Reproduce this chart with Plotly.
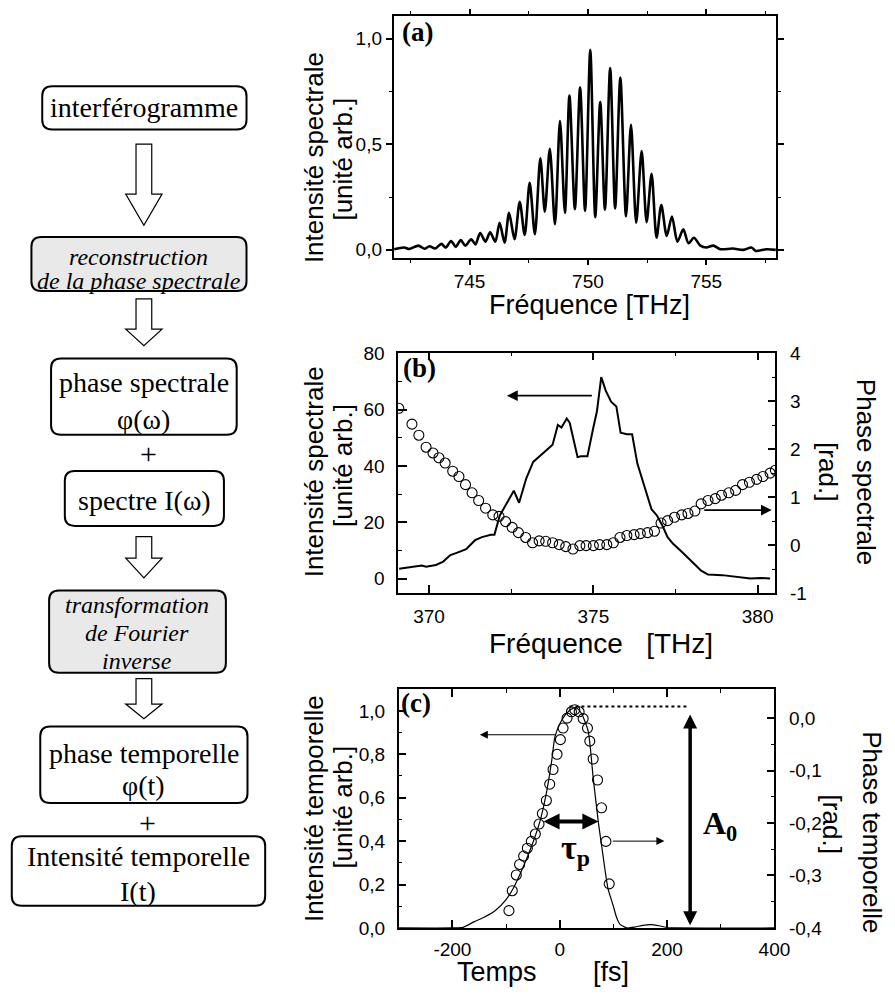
import plotly.graph_objects as go

W, H = 895, 997

# ---------------- panel (a): interferogram spectrum ----------------
a_freq = [741.82, 742.24, 742.45, 742.84, 743.10, 743.31, 743.55, 743.81, 744.00, 744.22,
          744.42, 744.63, 744.82, 745.07, 745.25, 745.45, 745.67, 745.87, 746.09, 746.27,
          746.48, 746.67, 746.90, 747.12, 747.33, 747.54, 747.76, 747.99, 748.18, 748.39,
          748.61, 748.82, 749.03, 749.22, 749.45, 749.67, 749.88, 750.10, 750.31, 750.52,
          750.72, 750.94, 751.15, 751.37, 751.61, 751.82, 752.04, 752.27, 752.48, 752.69,
          752.90, 753.10, 753.33, 753.55, 753.78, 754.03, 754.25, 754.48, 754.75, 755.00,
          755.30, 755.60, 756.12, 756.57, 756.91, 757.09, 757.54, 757.94]
a_int = [0.003, 0.011, 0.004, 0.020, 0.005, 0.017, 0.006, 0.028, 0.011, 0.042,
         0.014, 0.046, 0.020, 0.050, 0.026, 0.080, 0.039, 0.083, 0.039, 0.128,
         0.034, 0.175, 0.050, 0.227, 0.070, 0.317, 0.074, 0.433, 0.181, 0.479,
         0.121, 0.610, 0.175, 0.731, 0.193, 0.770, 0.185, 0.947, 0.155, 0.700,
         0.190, 0.861, 0.196, 0.816, 0.159, 0.592, 0.128, 0.468, 0.131, 0.360,
         0.057, 0.212, 0.066, 0.158, 0.039, 0.097, 0.031, 0.057, 0.020, 0.011,
         0.020, 0.003, 0.006, 0.000, 0.011, -0.005, 0.003, 0.000]
a_xticks = [745, 750, 755]
a_xticklabels = ["745", "750", "755"]
a_xminor = [742.5, 747.5, 752.5, 757.5]
a_yticks = [0.0, 0.5, 1.0]
a_yticklabels = ["0,0", "0,5", "1,0"]
a_yminor = [0.25, 0.75]

# ---------------- panel (b): spectrum + spectral phase ----------------
b_freq = [369.09, 369.46, 369.78, 369.91, 370.05, 370.21, 370.43, 370.65, 370.86, 371.13,
          371.40, 371.61, 371.88, 371.99, 372.15, 372.37, 372.58, 372.74, 372.96, 373.17,
          373.39, 373.55, 373.76, 373.92, 374.03, 374.19, 374.28, 374.52, 374.62, 374.82,
          374.89, 375.00, 375.11, 375.24, 375.38, 375.54, 375.70, 375.83, 376.02, 376.18,
          376.34, 376.56, 376.77, 376.94, 377.10, 377.26, 377.42, 377.69, 377.85, 378.12,
          378.28, 378.49, 378.92, 379.35, 379.78, 380.10, 380.38]
b_int = [3.5, 4.2, 4.6, 4.2, 4.6, 4.8, 6.0, 8.3, 9.2, 10.4,
         13.6, 14.7, 15.5, 15.5, 22.3, 26.9, 31.2, 26.9, 35.6, 41.4,
         43.7, 45.2, 47.5, 54.5, 53.6, 56.8, 55.3, 43.1, 43.4, 43.4,
         47.8, 53.6, 59.4, 71.5, 66.6, 62.8, 61.1, 51.8, 51.2, 51.2,
         40.8, 32.7, 24.6, 22.3, 18.8, 14.7, 12.4, 9.5, 7.8, 4.6,
         2.8, 1.4, 1.2, 0.5, 0.0, 0.2, 0.0]
b_pfreq = [369.08, 369.48, 369.69, 369.91, 370.12, 370.30, 370.49, 370.72, 370.91, 371.11,
           371.31, 371.51, 371.72, 371.94, 372.13, 372.33, 372.53, 372.72, 372.94, 373.15,
           373.35, 373.55, 373.76, 373.96, 374.16, 374.38, 374.59, 374.78, 375.00, 375.19,
           375.41, 375.61, 375.81, 376.02, 376.24, 376.43, 376.65, 376.86, 377.06, 377.26,
           377.47, 377.69, 377.88, 378.09, 378.28, 378.49, 378.71, 378.90, 379.12, 379.33,
           379.54, 379.75, 379.97, 380.16, 380.38, 380.54]
b_phase = [2.85, 2.52, 2.29, 2.04, 1.92, 1.82, 1.71, 1.54, 1.43, 1.26,
           1.09, 0.93, 0.77, 0.63, 0.60, 0.49, 0.37, 0.26, 0.16, 0.05,
           0.09, 0.08, 0.05, 0.01, -0.03, -0.08, -0.01, -0.01, -0.01, 0.01,
           0.01, 0.05, 0.16, 0.20, 0.22, 0.24, 0.26, 0.29, 0.46, 0.51,
           0.58, 0.63, 0.66, 0.71, 0.86, 0.93, 0.97, 1.04, 1.09, 1.14,
           1.26, 1.31, 1.37, 1.43, 1.50, 1.56]
b_xticks = [370, 375, 380]
b_xminor = [372.5, 377.5]
b_yticks = [0, 20, 40, 60, 80]
b_yminor = [10, 30, 50, 70]
b_y2ticks = [-1, 0, 1, 2, 3, 4]
b_y2minor = [-0.5, 0.5, 1.5, 2.5, 3.5]

# ---------------- panel (c): temporal intensity + temporal phase ----------------
c_time = [-300, -200, -180, -160, -140, -120, -100, -85, -70, -55,
          -37, -25, -15, -9, 0, 10, 20, 30, 40, 53,
          62, 72, 78, 84, 90, 99, 106, 112, 125, 140,
          155, 170, 185, 200, 215, 400]
c_int = [0, 0, 0.003, 0.028, 0.05, 0.08, 0.13, 0.19, 0.27, 0.36,
         0.49, 0.62, 0.77, 0.88, 0.94, 0.98, 1.005, 1.015, 0.99, 0.907,
         0.70, 0.485, 0.38, 0.274, 0.18, 0.108, 0.048, 0.018, 0.0, 0.004,
         0.012, 0.015, 0.01, 0.002, 0, 0]
c_ptime = [-94.7, -88.5, -81.0, -74.8, -67.3, -60.4, -53.0, -45.5, -38.6, -32.4,
           -24.9, -18.7, -12.5, -5.0, 1.2, 6.2, 13.7, 21.8, 28.0, 36.1,
           43.6, 51.7, 56.0, 62.3, 70.4, 77.9, 86.0, 92.2]
c_phase = [-0.367, -0.329, -0.299, -0.279, -0.263, -0.248, -0.235, -0.221, -0.202, -0.182,
           -0.157, -0.126, -0.098, -0.069, -0.041, -0.019, 0.000, 0.012, 0.016, 0.012,
           -0.001, -0.019, -0.044, -0.078, -0.118, -0.171, -0.235, -0.316]
c_xticks = [-200, 0, 200, 400]
c_xminor = [-100, 100, 300]
c_yticks = [0.0, 0.2, 0.4, 0.6, 0.8, 1.0]
c_yticklabels = ["0,0", "0,2", "0,4", "0,6", "0,8", "1,0"]
c_yminor = [0.1, 0.3, 0.5, 0.7, 0.9]
c_y2ticks = [-0.4, -0.3, -0.2, -0.1, 0.0]
c_y2ticklabels = ["-0,4", "-0,3", "-0,2", "-0,1", "0,0"]
c_y2minor = [-0.35, -0.25, -0.15, -0.05]

# ---------------- flowchart text ----------------
flow_texts = [
    ["interférogramme"],
    ["reconstruction", "de la phase spectrale"],
    ["phase spectrale", "φ(ω)"],
    ["spectre I(ω)"],
    ["transformation", "de Fourier", "inverse"],
    ["phase temporelle", "φ(t)"],
    ["Intensité temporelle", "I(t)"],
]

SERIF = "Liberation Serif, Times New Roman, serif"
SANS = "Liberation Sans, Arial, sans-serif"


def PX(x):
    return x / W


def PY(y):
    return 1 - y / H


fig = go.Figure()

fig.add_trace(go.Scatter(x=a_freq, y=a_int, xaxis="x", yaxis="y", mode="lines",
                         line=dict(color="black", width=2.6, shape="spline", smoothing=0.8)))
fig.add_trace(go.Scatter(x=b_freq, y=b_int, xaxis="x2", yaxis="y2", mode="lines",
                         line=dict(color="black", width=2)))
fig.add_trace(go.Scatter(x=b_pfreq, y=b_phase, xaxis="x2", yaxis="y3", mode="markers",
                         marker=dict(symbol="circle-open", size=10, color="black",
                                     line=dict(width=1.1))))
fig.add_trace(go.Scatter(x=c_time, y=c_int, xaxis="x3", yaxis="y4", mode="lines",
                         line=dict(color="black", width=1.2, shape="spline", smoothing=0.6)))
fig.add_trace(go.Scatter(x=c_ptime, y=c_phase, xaxis="x3", yaxis="y5", mode="markers",
                         marker=dict(symbol="circle-open", size=10, color="black",
                                     line=dict(width=1.1))))

tickfont = dict(family=SANS, size=19, color="black")


def ax(**kw):
    d = dict(showline=True, linecolor="black", linewidth=1.5, showgrid=False,
             zeroline=False, tickcolor="black", tickwidth=1.5, tickfont=tickfont,
             tickmode="array", fixedrange=True)
    d.update(kw)
    return d


def minor(vals, direction, length=4):
    return dict(tickmode="array", tickvals=vals, ticks=direction, ticklen=length,
                tickcolor="black", tickwidth=1.2, showgrid=False)


a_xdom = [PX(400.7), PX(790)]
a_ydom = [PY(253.3), PY(6)]
b_xdom = [PX(405.4), PX(789.5)]
b_ydom = [PY(595.7), PY(350)]
c_xdom = [PX(406), PX(788.5)]
c_ydom = [PY(937.7), PY(694)]

layout = dict(
    width=W, height=H, margin=dict(l=0, r=0, t=0, b=0),
    paper_bgcolor="white", plot_bgcolor="white", showlegend=False,
    xaxis=ax(domain=a_xdom, anchor="y", range=[741.79, 757.94], tickvals=a_xticks,
             ticktext=a_xticklabels, ticks="outside", ticklen=5, mirror="ticks",
             minor=minor(a_xminor, "outside", 3)),
    yaxis=ax(domain=a_ydom, anchor="x", range=[-0.0385, 1.108], tickvals=a_yticks,
             ticktext=a_yticklabels, ticks="outside", ticklen=6, mirror="ticks",
             minor=minor(a_yminor, "outside", 3)),
    xaxis2=ax(domain=b_xdom, anchor="y2", range=[369.06, 380.54], tickvals=b_xticks,
              ticktext=[str(v) for v in b_xticks], ticks="inside", ticklen=8,
              mirror="ticks", ticklabelstandoff=5, minor=minor(b_xminor, "inside")),
    yaxis2=ax(domain=b_ydom, anchor="x2", range=[-5.2, 80.2], tickvals=b_yticks,
              ticktext=[str(v) for v in b_yticks], ticks="inside", ticklen=9,
              mirror=True, ticklabelstandoff=8, minor=minor(b_yminor, "inside")),
    yaxis3=ax(overlaying="y2", side="right", anchor="x2", range=[-1.0, 4.01],
              tickvals=b_y2ticks, ticktext=[str(v) for v in b_y2ticks], ticks="inside",
              ticklen=8, ticklabelstandoff=9, minor=minor(b_y2minor, "inside")),
    xaxis3=ax(domain=c_xdom, anchor="y4", range=[-300, 400], tickvals=c_xticks,
              ticktext=[str(v) for v in c_xticks], ticks="inside", ticklen=8,
              mirror="ticks", ticklabelstandoff=4, minor=minor(c_xminor, "inside")),
    yaxis4=ax(domain=c_ydom, anchor="x3", range=[0, 1.099], tickvals=c_yticks,
              ticktext=c_yticklabels, ticks="inside", ticklen=8, mirror=True,
              ticklabelstandoff=8, minor=minor(c_yminor, "inside")),
    yaxis5=ax(overlaying="y4", side="right", anchor="x3", range=[-0.4, 0.0547],
              tickvals=c_y2ticks, ticktext=c_y2ticklabels, ticks="inside", ticklen=8,
              ticklabelstandoff=9, minor=minor(c_y2minor, "inside")),
)

annotations = []
shapes = []


def label(text, x, y, size, family=SANS, angle=0, **kw):
    annotations.append(dict(text=text, x=PX(x), y=PY(y), xref="paper", yref="paper",
                            showarrow=False, textangle=angle, xanchor="center",
                            yanchor="middle",
                            font=dict(family=family, size=size, color="black"), **kw))


# axis titles
label("Intensité spectrale", 320, 151, 26, angle=-90)
label("[unité arb.]", 349, 152, 26, angle=-90)
label("Fréquence [THz]", 600, 301, 27)
label("Intensité spectrale", 320, 472, 26, angle=-90)
label("[unité arb.]", 349, 465, 26, angle=-90)
label("Fréquence\u00a0\u00a0\u00a0[THz]", 612, 647, 28)
label("Phase spectrale", 882, 472, 26, angle=90)
label("[rad.]", 843, 472, 26, angle=90)
label("Intensité temporelle", 320, 816, 26, angle=-90)
label("[unité arb.]", 349, 814, 26, angle=-90)
label("Temps", 506, 983, 27)
label("[fs]", 622, 983, 27)
label("Phase temporelle", 888, 840, 26, angle=90)
label("[rad.]", 847, 832, 26, angle=90)

# panel letters
label("<b>(a)</b>", 425, 22, 27, family=SERIF)
label("<b>(b)</b>", 427, 366, 27, family=SERIF)
label("<b>(c)</b>", 424, 708, 27, family=SERIF)


def arrow(x, y, axv, ayv, xr, yr, width, size, both=False):
    d = dict(x=x, y=y, ax=axv, ay=ayv, xref=xr, yref=yr, axref=xr, ayref=yr,
             text="", showarrow=True, arrowhead=2, arrowsize=size, arrowwidth=width,
             arrowcolor="black", standoff=0, startstandoff=0)
    if both:
        d["arrowside"] = "end+start"
    annotations.append(d)


# panel (b) pointer arrows
arrow(372.37, 64.9, 375.0, 64.9, "x2", "y2", 1.8, 1.2)
arrow(380.43, 0.73, 378.33, 0.73, "x2", "y3", 1.8, 1.2)
# panel (c) pointer arrows
arrow(-149, 0.89, -6, 0.89, "x3", "y4", 1.0, 1.6)
arrow(195, 0.40, 96, 0.40, "x3", "y4", 1.0, 1.6)
# tau_p and A0 double arrows
arrow(72, 0.49, -33, 0.49, "x3", "y4", 4, 0.8, both=True)
arrow(243, 0.012, 243, 0.99, "x3", "y4", 3.5, 0.8, both=True)
shapes.append(dict(type="line", xref="x3", yref="y4", x0=18, x1=240, y0=1.02, y1=1.02,
                   line=dict(color="black", width=2, dash="dot")))
annotations.append(dict(text="<b>τ<sub>p</sub></b>", x=30, y=0.36, xref="x3", yref="y4",
                        showarrow=False, font=dict(family=SERIF, size=34, color="black")))
annotations.append(dict(text="<b>A<sub>0</sub></b>", x=298, y=0.47, xref="x3", yref="y4",
                        showarrow=False, font=dict(family=SERIF, size=32, color="black")))


# ---------------- flowchart drawing ----------------
def rrect(x0, y0, x1, y1, r):
    def p(x, y):
        return f"{PX(x):.5f},{PY(y):.5f}"
    return (f"M {p(x0 + r, y0)} L {p(x1 - r, y0)} Q {p(x1, y0)} {p(x1, y0 + r)} "
            f"L {p(x1, y1 - r)} Q {p(x1, y1)} {p(x1 - r, y1)} L {p(x0 + r, y1)} "
            f"Q {p(x0, y1)} {p(x0, y1 - r)} L {p(x0, y0 + r)} Q {p(x0, y0)} {p(x0 + r, y0)} Z")


def hollow_arrow(top, head, tip, cx=146.5, shaft=8, half=18.5):
    def p(x, y):
        return f"{PX(x):.5f},{PY(y):.5f}"
    return (f"M {p(cx - shaft, top)} L {p(cx + shaft, top)} L {p(cx + shaft, head)} "
            f"L {p(cx + half, head)} L {p(cx, tip)} L {p(cx - half, head)} "
            f"L {p(cx - shaft, head)} Z")


box_geom = [
    (43, 78, 251, 122, "white", False, [100]),
    (32, 232, 251, 287, "#e9e9e9", True, [252, 277]),
    (52, 356, 241, 434, "white", False, [381, 418]),
    (66, 471, 228, 527, "white", False, [501]),
    (50, 593, 230, 677, "#e9e9e9", True, [608, 636, 665]),
    (41, 732, 252, 810, "white", False, [759, 792]),
    (12, 844, 270, 915, "white", False, [865, 900]),
]
for (x0, y0, x1, y1, fill, italic, ys), texts in zip(box_geom, flow_texts):
    shapes.append(dict(type="path", xref="paper", yref="paper", path=rrect(x0, y0, x1, y1, 10),
                       fillcolor=fill, line=dict(color="black", width=2), layer="below"))
    for t, yy in zip(texts, ys):
        label(f"<i>{t}</i>" if italic else t, (x0 + x1) / 2, yy, 24 if italic else 28,
              family=SERIF)

for top, head, tip in [(137, 188, 220), (295, 326, 343), (538, 560, 580), (683, 709, 724)]:
    shapes.append(dict(type="path", xref="paper", yref="paper",
                       path=hollow_arrow(top, head, tip), fillcolor="white",
                       line=dict(color="black", width=1.2)))

label("+", 151, 453, 30, family=SERIF)
label("+", 150, 830, 30, family=SERIF)

layout["annotations"] = annotations
layout["shapes"] = shapes
fig.update_layout(**layout)
fig.write_html("out.html")
